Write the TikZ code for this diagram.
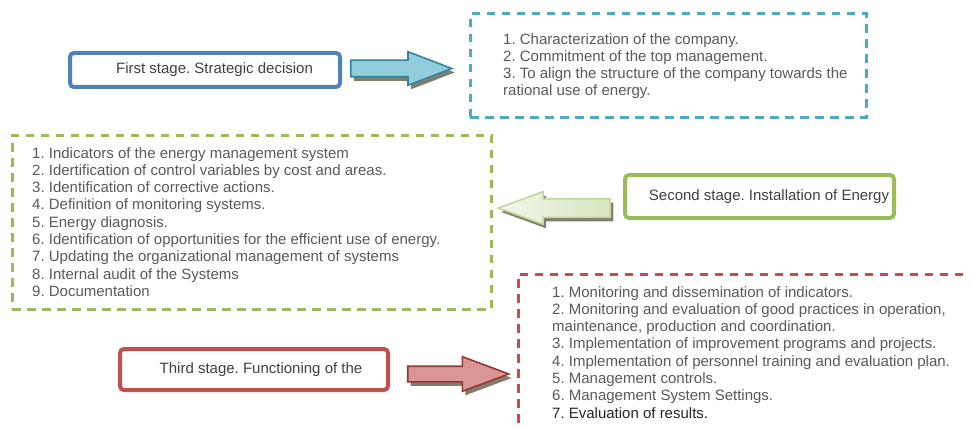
\documentclass[tikz,border=0pt]{standalone}
\usepackage{fontspec}
\setmainfont{Liberation Sans}
\usepackage{xcolor}
\usetikzlibrary{positioning,shapes.arrows,shadows}
\frenchspacing

\definecolor{stageblue}{HTML}{4F81BD}
\definecolor{dashblue}{HTML}{4BACC6}
\definecolor{arrowblue}{HTML}{92CDDC}
\definecolor{arrowblueline}{HTML}{31859C}
\definecolor{stagegreen}{HTML}{9BBB59}
\definecolor{arrowgreen}{HTML}{D7E4BD}
\definecolor{arrowgreenline}{HTML}{C3D69B}
\definecolor{stagered}{HTML}{C0504D}
\definecolor{arrowred}{HTML}{D99694}
\definecolor{arrowredline}{HTML}{953735}
\definecolor{shadowgray}{HTML}{807F6E}
\definecolor{textgray}{HTML}{595959}

\begin{document}
\begin{tikzpicture}[x=1pt,y=-1pt,
	stagebox/.style={
		draw, line width=4pt, rounded corners=4pt, inner sep=0pt,
		text=black!75, font=\fontsize{15}{17}\selectfont
	},
	listbox/.style={
		draw, line width=3pt, dash pattern=on 8.5pt off 6.5pt, inner sep=0pt
	},
	listtext/.style={
		anchor=north west, inner sep=0pt, align=left, text=textgray,
		font=\fontsize{15}{17.3}\selectfont
	},
	blockarrow/.style={
		single arrow, draw, line width=1.6pt, inner xsep=0pt, minimum width=0pt,
		anchor=tip, drop shadow={shadow xshift=3pt, shadow yshift=-4pt, fill=shadowgray, opacity=1}
	}
	]
	\clip (0,0) rectangle (970,428);
	
	% first stage
	\node[stagebox, draw=stageblue, minimum width=270pt, minimum height=34pt] (first) at (205,70) {\hspace*{19pt}First stage. Strategic decision};
	\node[blockarrow, fill=arrowblue, draw=arrowblueline, minimum height=101pt, inner ysep=7.5pt,
	single arrow head extend=8.5pt, single arrow tip angle=42] (arrowfirst) at (454,68.5) {};
	\node[listbox, draw=dashblue, minimum width=396pt, minimum height=103pt] (planfirst) at (668,65.5) {};
	\node[listtext] (listfirst) at (503,33) {1. Characterization of the company.\\
		2. Commitment of the top management.\\
		3. To align the structure of the company towards the\\
		rational use of energy.};
	
	% second stage
	\node[stagebox, draw=stagegreen, minimum width=269pt, minimum height=43pt] (second) at (759.5,196.5) {\hspace*{19pt}Second stage. Installation of Energy};
	\node[blockarrow, shape border rotate=180, left color=arrowgreen!30, right color=arrowgreen, draw=arrowgreenline,
	minimum height=112pt, inner ysep=8.5pt, single arrow head extend=7pt, single arrow tip angle=40] (arrowsecond) at (496,208) {};
	\node[listbox, draw=stagegreen, minimum width=479pt, minimum height=174pt] (plansecond) at (251.5,222) {};
	\node[listtext] (listsecond) at (32,147) {1. Indicators of the energy management system\\
		2. Idertification of control variables by cost and areas.\\
		3. Identification of corrective actions.\\
		4. Definition of monitoring systems.\\
		5. Energy diagnosis.\\
		6. Identification of opportunities for the efficient use of energy.\\
		7. Updating the organizational management of systems\\
		8. Internal audit of the Systems\\
		9. Documentation};
	
	% third stage
	\node[stagebox, draw=stagered, minimum width=268pt, minimum height=41pt] (third) at (254,369.5) {\hspace*{14pt}Third stage. Functioning of the};
	\node[blockarrow, fill=arrowred, draw=arrowredline, minimum height=101pt, inner ysep=7pt,
	single arrow head extend=9.5pt, single arrow tip angle=41] (arrowthird) at (511,374) {};
	\node[listbox, draw=stagered, minimum width=482pt, minimum height=186pt] (planthird) at (759,367) {};
	\node[listtext] (listthird) at (552,286) {1. Monitoring and dissemination of indicators.\\
		2. Monitoring and evaluation of good practices in operation,\\
		maintenance, production and coordination.\\
		3. Implementation of improvement programs and projects.\\
		4. Implementation of personnel training and evaluation plan.\\
		5. Management controls.\\
		6. Management System Settings.\\
		\textcolor{black!85}{7. Evaluation of results.}};
\end{tikzpicture}
\end{document}
